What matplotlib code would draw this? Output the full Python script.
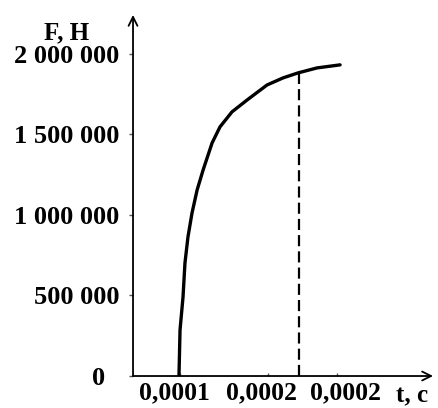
import matplotlib.pyplot as plt
import matplotlib.transforms as mtransforms

# curve: time (s) vs force (N)
t_vals = [0.0000994, 0.0001000, 0.0001017, 0.0001028, 0.0001045, 0.0001068,
          0.0001097, 0.0001131, 0.0001182, 0.0001227, 0.0001295, 0.0001381,
          0.0001494, 0.0001585, 0.0001670, 0.0001778, 0.0001909]
f_vals = [0, 286000, 491000, 702000, 863000, 1012000,
          1155000, 1279000, 1447000, 1547000, 1640000, 1714000,
          1807000, 1851000, 1882000, 1913000, 1932000]

# dashed marker line
t_mark = 0.0001676
f_mark = 1884000

y_ticks = [0, 500000, 1000000, 1500000, 2000000]
y_labels = ['0', '500 000', '1 000 000', '1 500 000', '2 000 000']
x_ticks = [0.0001, 0.00015, 0.000189]
x_labels = ['0,0001', '0,0002', '0,0002']

plt.rcParams['font.family'] = ['Liberation Serif', 'DejaVu Serif']
plt.rcParams['font.weight'] = 'bold'

fig = plt.figure(figsize=(4.38, 4.08), dpi=100)
ax = fig.add_axes([0.3037, 0.0784, 0.685, 0.885])

ax.plot(t_vals, f_vals, color='black', linewidth=2.4, solid_capstyle='round',
        solid_joinstyle='round')
ax.plot([t_mark, t_mark], [0, f_mark], color='black', linewidth=1.6,
        linestyle=(0, (5, 2.3)))

ax.set_xlim(0.0000733, 0.0002437)
ax.set_ylim(0, 2242000)

for s in ax.spines.values():
    s.set_visible(False)

# axes with open arrow heads
ax.annotate('', xy=(0, 1), xytext=(0, 0), xycoords='axes fraction',
            arrowprops=dict(arrowstyle='->', lw=1.3, color='black',
                            shrinkA=0, shrinkB=0, mutation_scale=16))
ax.annotate('', xy=(1, 0), xytext=(0, 0), xycoords='axes fraction',
            arrowprops=dict(arrowstyle='->', lw=1.3, color='black',
                            shrinkA=0, shrinkB=0, mutation_scale=16))

ax.set_yticks(y_ticks)
ax.set_yticklabels(y_labels, fontsize=19)
ax.set_xticks(x_ticks)
ax.set_xticklabels(x_labels, fontsize=18.5)
ax.tick_params(axis='y', length=3, width=1, pad=7, color='#555555')
ax.tick_params(axis='x', length=2, width=1, pad=4, direction='in', color='#555555')

# nudge some labels like in the original drawing (pixels)
def nudge(label, dx):
    off = mtransforms.ScaledTranslation(dx / 72, 0, fig.dpi_scale_trans)
    label.set_transform(label.get_transform() + off)

nudge(ax.yaxis.get_major_ticks()[0].label1, -10)
for tick, dx in zip(ax.xaxis.get_major_ticks(), [-4, -5, 6]):
    nudge(tick.label1, dx)

ax.text(-0.22, 0.95, 'F, Н', transform=ax.transAxes, fontsize=18,
        ha='center', va='center')
ax.text(0.93, -0.055, 't, с', transform=ax.transAxes, fontsize=18,
        ha='center', va='center')

plt.savefig('out.png', dpi=100)
